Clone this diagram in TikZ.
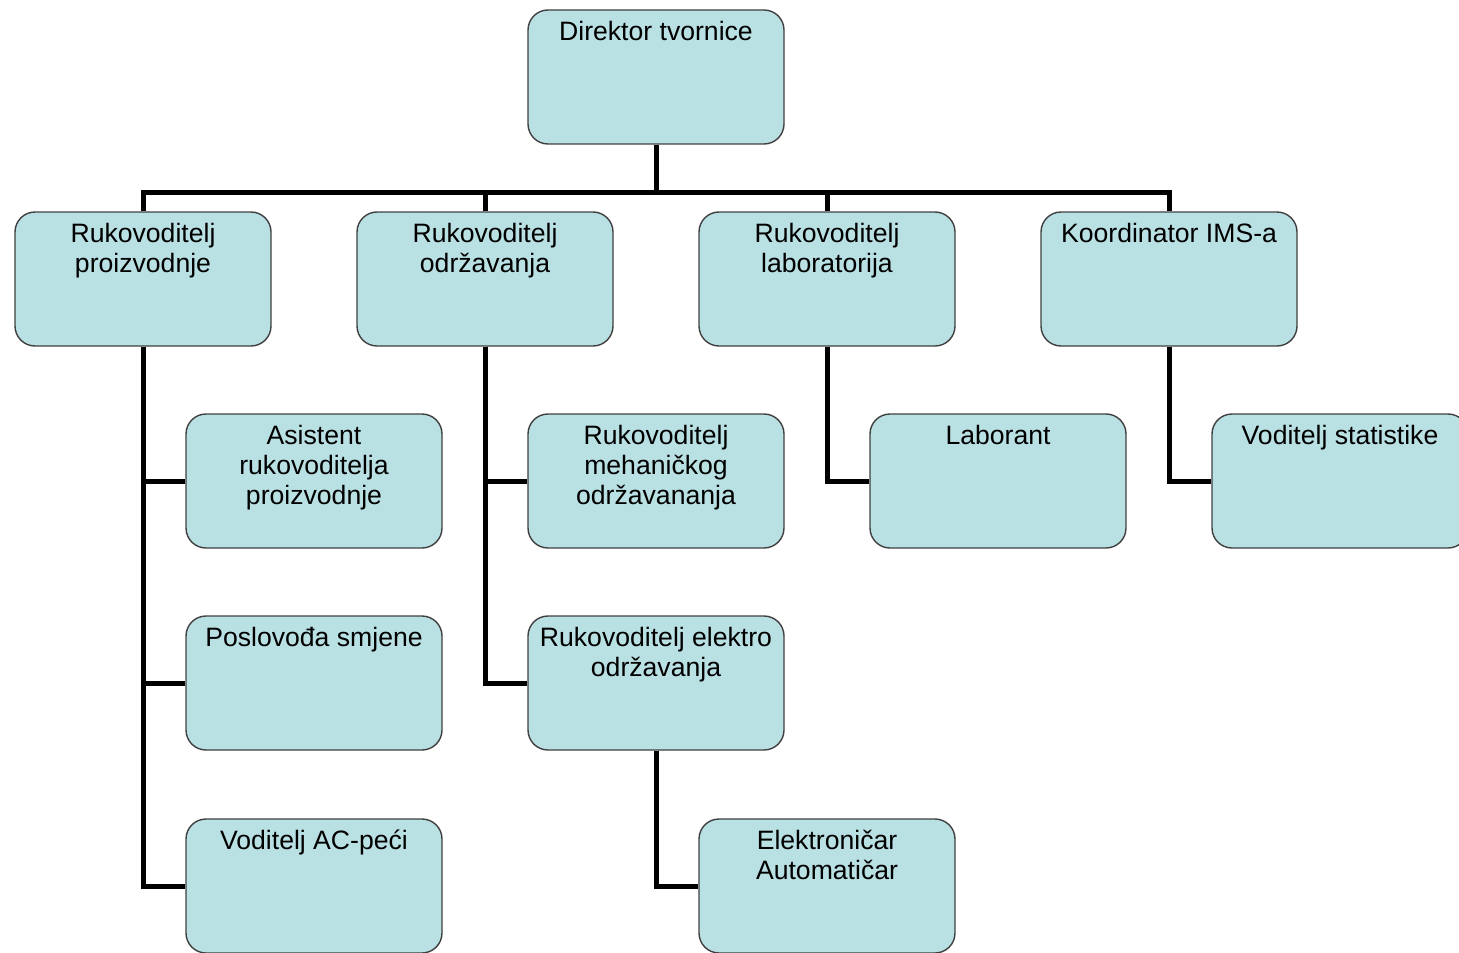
\documentclass[tikz,border=0pt]{standalone}
\usepackage{fontspec}
\setmainfont{Liberation Sans}
\usepackage{tikz}
\definecolor{boxfill}{RGB}{185,224,227}
\definecolor{boxedge}{RGB}{64,64,64}
\newcommand{\unittext}[1]{\parbox[c][67pt][t]{128pt}{\centering\vspace*{5.7pt}#1\par}}
\tikzstyle{unit} = [draw=boxedge,line width=0.7pt,fill=boxfill,rounded corners=10pt,inner sep=0pt,font=\fontsize{13.3}{15}\selectfont]
\tikzstyle{link} = [line width=2.5pt,black]

\begin{document}
\begin{tikzpicture}[x=0.5pt,y=-0.5pt]
          \useasboundingbox (0,0) rectangle (1459,952);
          \clip (0,0) rectangle (1459,952);
          % boxes
          \node[unit] (dir) at (656,77) {\unittext{Direktor tvornice}};

          \node[unit] (proizv) at (143,279) {\unittext{Rukovoditelj\\proizvodnje}};
          \node[unit] (odrz) at (485,279) {\unittext{Rukovoditelj\\održavanja}};
          \node[unit] (lab) at (827,279) {\unittext{Rukovoditelj\\laboratorija}};
          \node[unit] (ims) at (1169,279) {\unittext{Koordinator IMS-a}};

          \node[unit] (asist) at (314,481) {\unittext{Asistent\\rukovoditelja\\proizvodnje}};
          \node[unit] (meh) at (656,481) {\unittext{Rukovoditelj\\mehaničkog\\održavananja}};
          \node[unit] (laborant) at (998,481) {\unittext{Laborant}};
          \node[unit] (stat) at (1340,481) {\unittext{Voditelj statistike}};

          \node[unit] (poslov) at (314,683) {\unittext{Poslovođa smjene}};
          \node[unit] (elek) at (656,683) {\unittext{Rukovoditelj elektro\\održavanja}};

          \node[unit] (acpec) at (314,886) {\unittext{Voditelj AC-peći}};
          \node[unit] (automat) at (827,886) {\unittext{Elektroničar\\Automatičar}};

          % links
          \coordinate (bus) at (0,193);
          \draw[link] (dir.south) -- (dir.south |- bus);
          \draw[link] (proizv.north) -- (proizv.north |- bus) -- (ims.north |- bus) -- (ims.north);
          \draw[link] (odrz.north) -- (odrz.north |- bus);
          \draw[link] (lab.north) -- (lab.north |- bus);

          \draw[link] (proizv.south) |- (asist.west);
          \draw[link] (proizv.south) |- (poslov.west);
          \draw[link] (proizv.south) |- (acpec.west);
          \draw[link] (odrz.south) |- (meh.west);
          \draw[link] (odrz.south) |- (elek.west);
          \draw[link] (lab.south) |- (laborant.west);
          \draw[link] (ims.south) |- (stat.west);
          \draw[link] (elek.south) |- (automat.west);
\end{tikzpicture}
\end{document}
